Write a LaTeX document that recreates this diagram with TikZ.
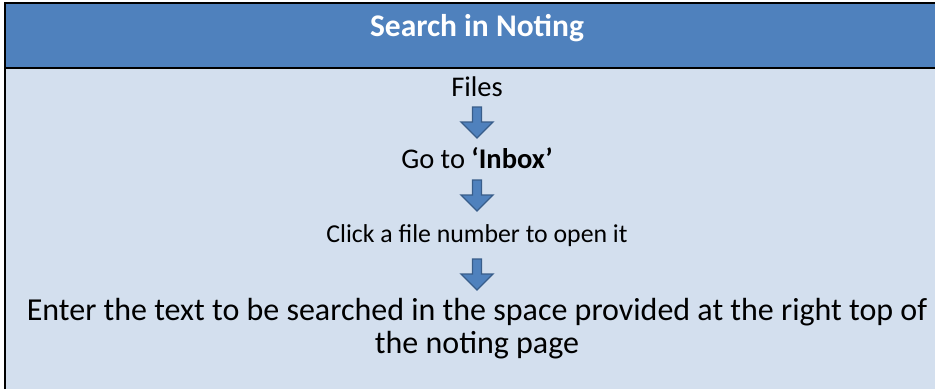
\documentclass[tikz,border=0pt]{standalone}
\usepackage{fontspec}
\setmainfont{Carlito}
\definecolor{hdr}{HTML}{4F81BD}
\definecolor{bodyc}{HTML}{D3DFEE}
\definecolor{arrowc}{HTML}{4F81BD}
\definecolor{arrowd}{HTML}{385D8A}
\tikzset{
  darrow/.pic={\path[fill=arrowc,draw=arrowd,line width=1.3pt,line join=miter]
    (-4.5,0) -- (4.5,0) -- (4.5,15) -- (16,15) -- (0,31) -- (-16,15) -- (-4.5,15) -- cycle;},
  steptext/.style={inner sep=0pt,text=black,align=center,anchor=base},
}
\begin{document}
\begin{tikzpicture}[x=1pt,y=-1pt]
\useasboundingbox (0,0) rectangle (935,389);
\fill[bodyc] (5,3) rectangle (935,389);
\fill[hdr] (5,3) rectangle (935,68);
\draw[line width=2.5pt] (5,389) -- (5,3) -- (935,3);
\draw[line width=2pt] (5,68) -- (935,68);
\node[steptext,text=white,font=\fontsize{31.5}{36}\selectfont\bfseries] (title) at (477,36) {Search in Noting};
\node[steptext,font=\fontsize{28.5}{32}\selectfont] (files) at (477,96) {Files};
\node[steptext,font=\fontsize{28.5}{32}\selectfont] (inbox) at (477,168) {Go to \textbf{‘Inbox’}};
\node[steptext,font=\fontsize{25.8}{30}\selectfont] (click) at (477,242) {Click a file number to open it};
\node[steptext,font=\fontsize{32}{33}\selectfont] (enter) at (477,353) {Enter the text to be searched in the space provided at the right top of\\the noting page};
\pic at (477,107) {darrow};
\pic at (477,180) {darrow};
\pic at (477,259) {darrow};
\end{tikzpicture}
\end{document}
